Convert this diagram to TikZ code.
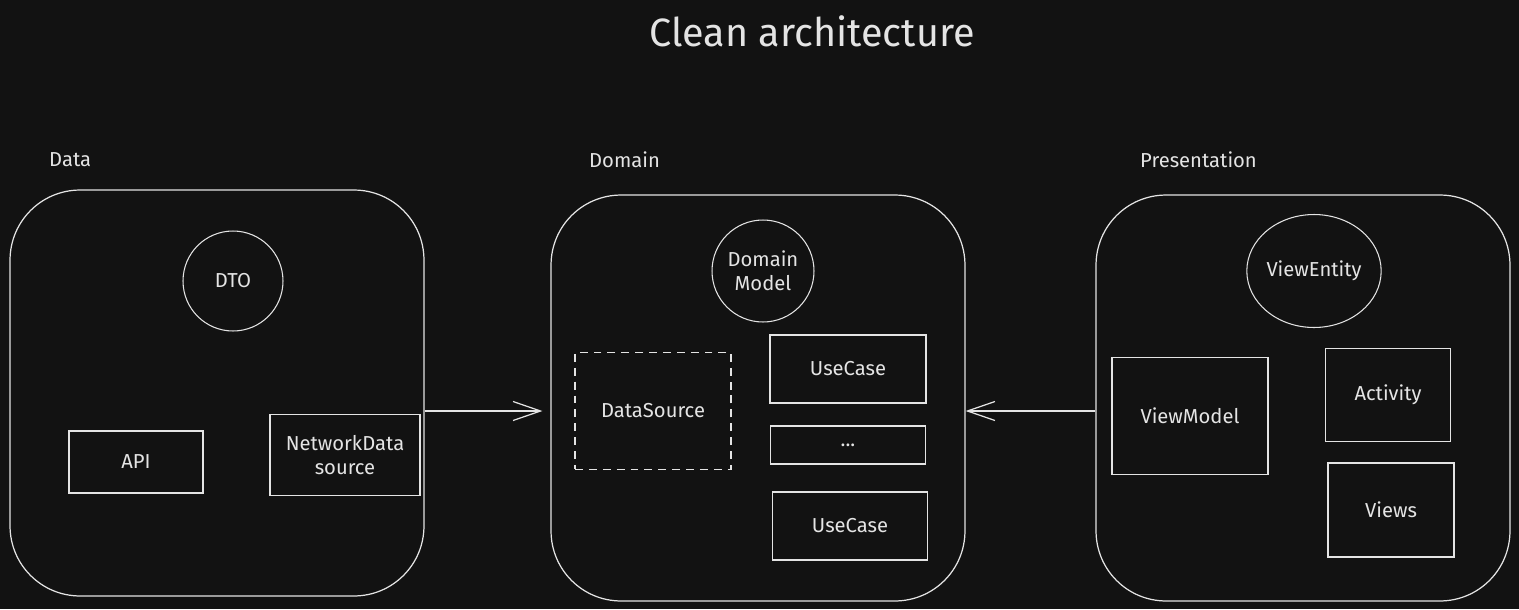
\documentclass[tikz,border=0pt]{standalone}
\usepackage{fontspec}
\setmainfont{Fira Sans}
\usetikzlibrary{shapes.geometric, arrows.meta, positioning}
\definecolor{fondo}{HTML}{121212}
\definecolor{trazo}{HTML}{E4E4E4}

\begin{document}
\begin{tikzpicture}[x=0.02cm, y=-0.02cm, font=\fontsize{11.5}{13.5}\selectfont, trazo,
        capa/.style={draw=trazo, rounded corners=1.4cm, minimum width=8.28cm,
            minimum height=8.12cm, line width=0.7pt},
        caja/.style={draw=trazo, line width=0.6pt, align=center, inner sep=0},
        ent/.style={draw=trazo, circle, minimum size=2cm, align=center, inner sep=0, line width=0.6pt},
        etq/.style={anchor=west, font=\fontsize{11.5}{13.5}\selectfont},
        fl/.style={-{Straight Barb[length=5.5mm, width=3.8mm]}, line width=0.7pt}]
        \fill[fondo] (0,0) rectangle (1519,609);
        \node[font=\fontsize{22.5}{26}\selectfont] (tit) at (812,31) {Clean architecture};
        % capas
        \node[capa] (data) at (217,393) {};
        \node[capa] (dom) at (758,398) {};
        \node[capa] (pres) at (1303,398) {};
        \node[etq] (tdata) at (43,160) {Data};
        \node[etq] (tdom) at (583,160) {Domain};
        \node[etq] (tpres) at (1134,160) {Presentation};
        % data
        \node[ent] (dto) at (233,281) {DTO};
        \node[caja, minimum width=2.68cm, minimum height=1.24cm] (api) at (136,462) {API};
        \node[caja, minimum width=3cm, minimum height=1.62cm] (ns) at (345,455) {NetworkData\\source};
        % domain
        \node[ent, minimum size=2.04cm] (dm) at (763,271) {Domain\\Model};
        \node[caja, dashed, dash pattern=on 4.5pt off 3.4pt, minimum width=3.12cm,
            minimum height=2.34cm] (dsrc) at (653,411) {DataSource};
        \node[caja, minimum width=3.12cm, minimum height=1.36cm] (uc1) at (848,369) {UseCase};
        \node[caja, minimum width=3.1cm, minimum height=0.76cm] (puntos) at (848,445) {...};
        \node[caja, minimum width=3.1cm, minimum height=1.36cm] (uc2) at (850,526) {UseCase};
        % presentation
        \node[ent, ellipse, minimum width=2.54cm, minimum height=2.26cm] (ve) at (1314,271) {ViewEntity};
        \node[caja, minimum width=3.12cm, minimum height=2.34cm] (vm) at (1190,416) {ViewModel};
        \node[caja, minimum width=2.5cm, minimum height=1.86cm] (act) at (1388,395) {Activity};
        \node[caja, minimum width=2.52cm, minimum height=1.88cm] (vis) at (1391,510) {Views};
        % dependencias
        \draw[fl, shorten >=0.16cm] (data.east |- dsrc) -- (dom.west |- dsrc);
        \draw[fl] (pres.west |- dsrc) -- (dom.east |- dsrc);
    \end{tikzpicture}
\end{document}
